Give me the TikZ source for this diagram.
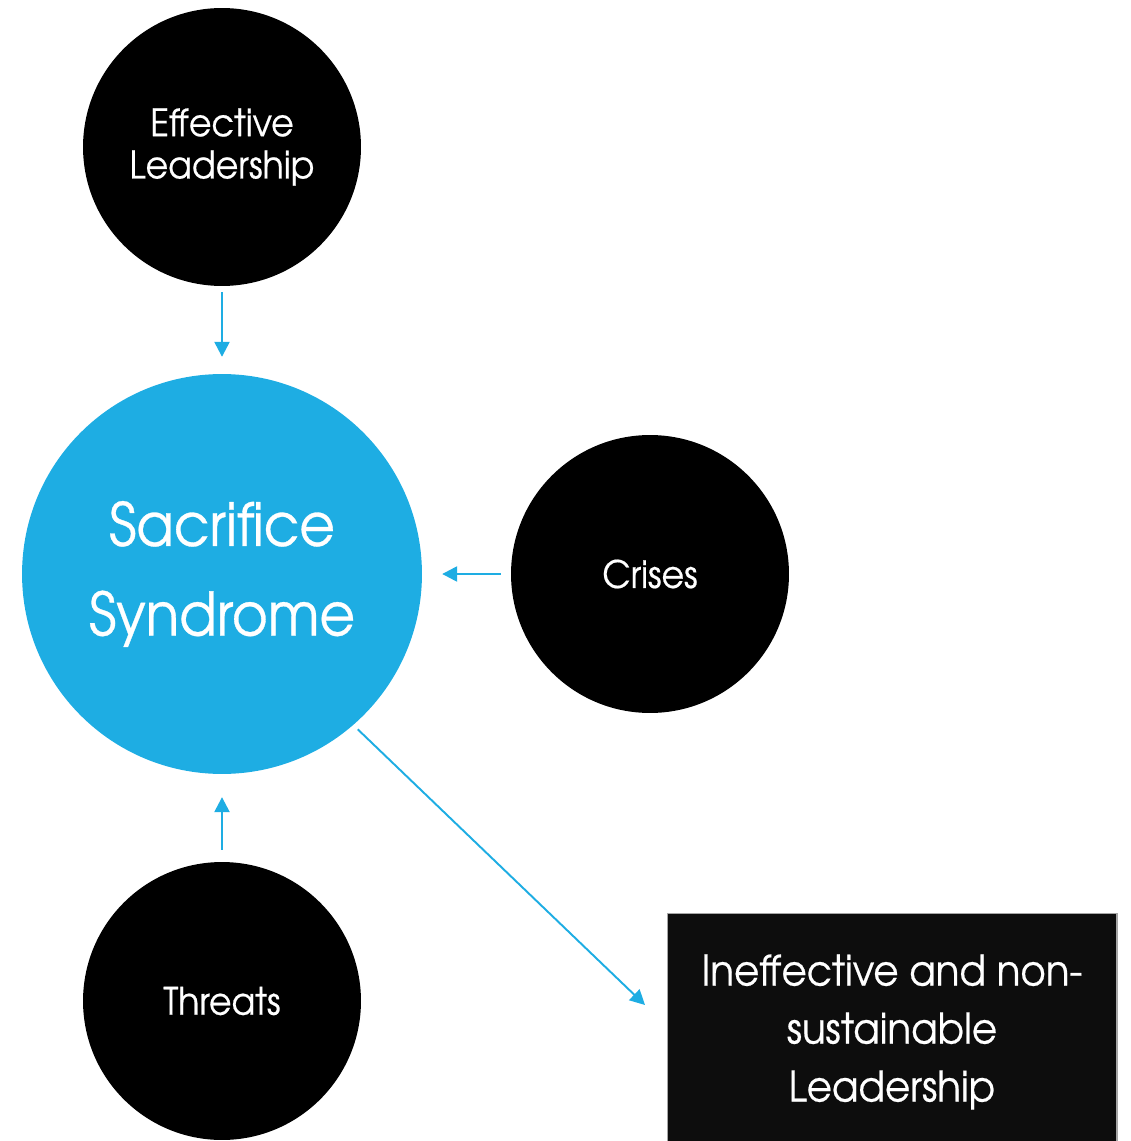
\documentclass[tikz,border=0pt]{standalone}
\usepackage{fontspec}
\setmainfont{TeX Gyre Adventor}[FakeStretch=0.92, FakeBold=0.5]
\usepackage{xcolor}
\usepackage{tikz}
\usetikzlibrary{arrows.meta,positioning}
\definecolor{sacblue}{RGB}{30,173,227}
\definecolor{boxblack}{RGB}{13,13,13}

\begin{document}
\begin{tikzpicture}[x=0.02cm, y=-0.02cm, >={Triangle[width=8.5pt,length=8.5pt]},
    blob/.style={circle, fill=black, text=white, minimum size=5.56cm,
        inner sep=0pt, align=center, font=\fontsize{21.5}{24}\selectfont},
    link/.style={->, sacblue, line width=1.35pt}]
    \useasboundingbox (0,0) rectangle (1130,1141);

    % the four circles
    \node[blob] (eff) at (222,147) {Effective\\Leadership};
    \node[blob, fill=sacblue, minimum size=8cm,
        font=\fontsize{34}{51}\selectfont] (sac) at (222,574) {Sacrifice\\Syndrome};
    \node[blob] (cri) at (650,574) {Crises};
    \node[blob] (thr) at (222,1001) {Threats};

    % outcome box, runs off the bottom edge
    \node[draw=gray!70, fill=boxblack, text=white, line width=0.6pt,
        minimum width=9cm, minimum height=4.76cm, align=center,
        font=\fontsize{24}{33}\selectfont] (out) at (892,1032)
        {Ineffective and non-\\sustainable\\Leadership};

    \coordinate (tip) at (645,1005);

    \draw[link, shorten <=3.4pt, shorten >=9.6pt] (eff) -- (sac);
    \draw[link, shorten <=5.7pt, shorten >=11.3pt] (cri) -- (sac);
    \draw[link, shorten <=6.8pt, shorten >=13pt] (thr) -- (sac);
    \draw[link, line width=1.1pt, shorten <=3.4pt] (sac.-49) -- (tip);
\end{tikzpicture}
\end{document}
